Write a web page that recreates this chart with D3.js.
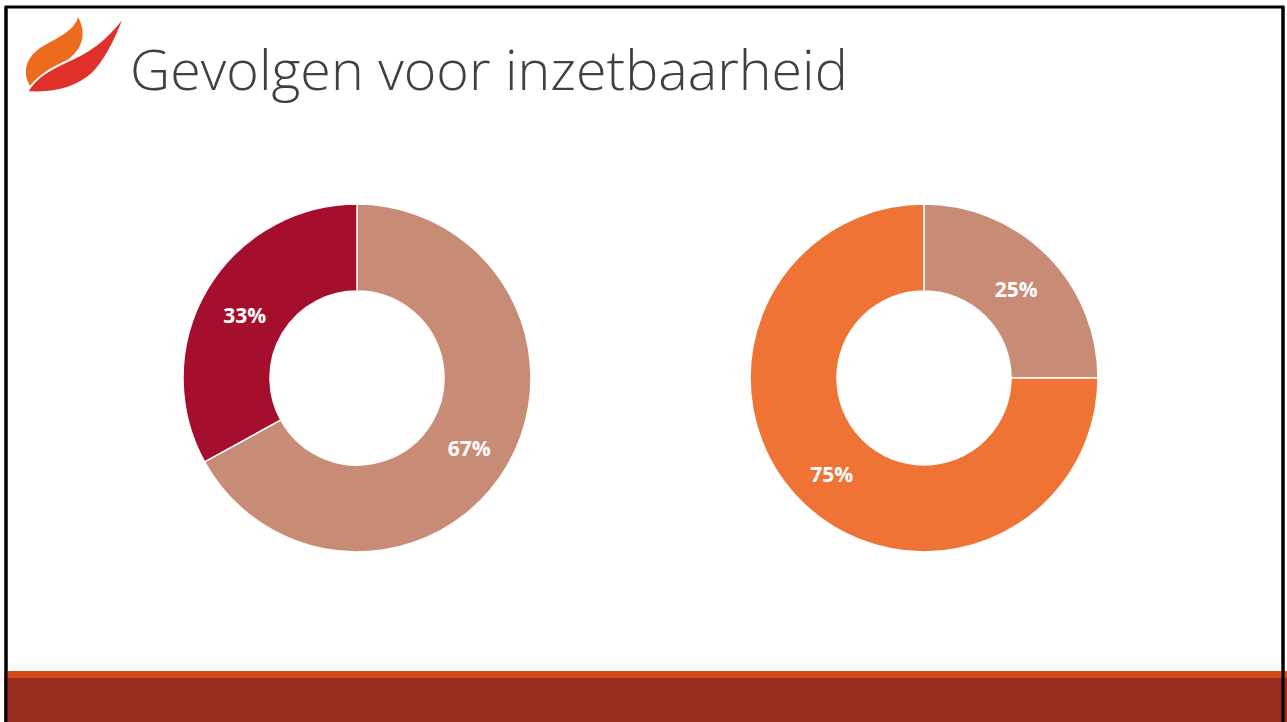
<!DOCTYPE html>
<html>
<head>
<meta charset="utf-8">
<script src="https://cdn.jsdelivr.net/npm/d3@7"></script>
<style>
  html, body { margin: 0; padding: 0; background: #fff; overflow: hidden; }
</style>
</head>
<body>
<div class="container"></div>
<script>
/* Params */
const width = 1287;
const height = 722;

// Data
const title = 'Gevolgen voor inzetbaarheid';
const leftLabels = ['67%', '33%'];
const leftValues = [67, 33];
const rightLabels = ['25%', '75%'];
const rightValues = [25, 75];

/* Colors */
const leftColors = ['#c88b75', '#a50e2d'];
const rightColors = ['#c88b75', '#ee7334'];
const barOrange = '#d34a1c';
const barRed = '#992d20';

const svg = d3.select('.container')
    .append('svg')
    .attr('width', width)
    .attr('height', height)
    .style('display', 'block');

// slide frame
svg.append('rect')
    .attr('x', 6).attr('y', 7)
    .attr('width', 1277).attr('height', 720)
    .attr('fill', '#fff')
    .attr('stroke', '#000')
    .attr('stroke-width', 3);

// bottom bars
svg.append('rect').attr('x', 4).attr('y', 671).attr('width', 1283).attr('height', 8).attr('fill', barOrange);
svg.append('rect').attr('x', 4).attr('y', 678).attr('width', 1283).attr('height', 44).attr('fill', barRed);
// frame sides over the bar
svg.append('line').attr('x1', 6).attr('x2', 6).attr('y1', 7).attr('y2', 722).attr('stroke', '#000').attr('stroke-width', 3);
svg.append('line').attr('x1', 1283).attr('x2', 1283).attr('y1', 7).attr('y2', 722).attr('stroke', '#000').attr('stroke-width', 3);

// logo
const logo = svg.append('g');
logo.append('path')
    .attr('d', 'M30,86 C22,72 26,58 40,48 C56,38 74,32 78,17 C86,32 84,46 70,58 C56,70 40,76 30,86 Z')
    .attr('fill', '#ec6b1c');
logo.append('path')
    .attr('d', 'M27,92 C36,76 52,68 74,58 C98,47 112,32 125,15 C118,34 108,58 92,74 C76,88 54,94 27,92 Z')
    .attr('fill', '#e0302a')
    .attr('stroke', '#fff')
    .attr('stroke-width', 2);

// title
const titleText = svg.append('text')
    .attr('x', 130)
    .attr('y', 90)
    .attr('fill', '#404040')
    .style('font-family', '"Open Sans", "Liberation Sans", sans-serif')
    .style('font-weight', 300)
    .style('font-size', '52px')
    .text(title);
const tw = titleText.node().getComputedTextLength();
titleText.style('font-size', (52 * 718 / tw) + 'px');

/* Donuts */
const outerR = 174;
const innerR = 87;
const pie = d3.pie().sort(null).value(d => d);
const arc = d3.arc().innerRadius(innerR).outerRadius(outerR);
const labelArc = d3.arc().innerRadius((innerR + outerR) / 2).outerRadius((innerR + outerR) / 2);

function donut(cx, cy, values, labels, colors) {
    const g = svg.append('g').attr('transform', `translate(${cx}, ${cy})`);
    const slices = pie(values);
    g.selectAll('.slice')
        .data(slices)
        .enter()
        .append('path')
        .attr('class', 'slice')
        .attr('d', arc)
        .attr('fill', (d, i) => colors[i])
        .attr('stroke', '#fff')
        .attr('stroke-width', 1.5);
    g.selectAll('.label')
        .data(slices)
        .enter()
        .append('text')
        .attr('class', 'label')
        .attr('transform', d => `translate(${labelArc.centroid(d)})`)
        .attr('text-anchor', 'middle')
        .attr('dy', '0.55em')
        .attr('fill', '#fff')
        .style('font-family', '"Open Sans", "Liberation Sans", sans-serif')
        .style('font-weight', 700)
        .style('font-size', '21px')
        .text((d, i) => labels[i]);
}

donut(357, 378, leftValues, leftLabels, leftColors);
donut(924, 378, rightValues, rightLabels, rightColors);
</script>
</body>
</html>
